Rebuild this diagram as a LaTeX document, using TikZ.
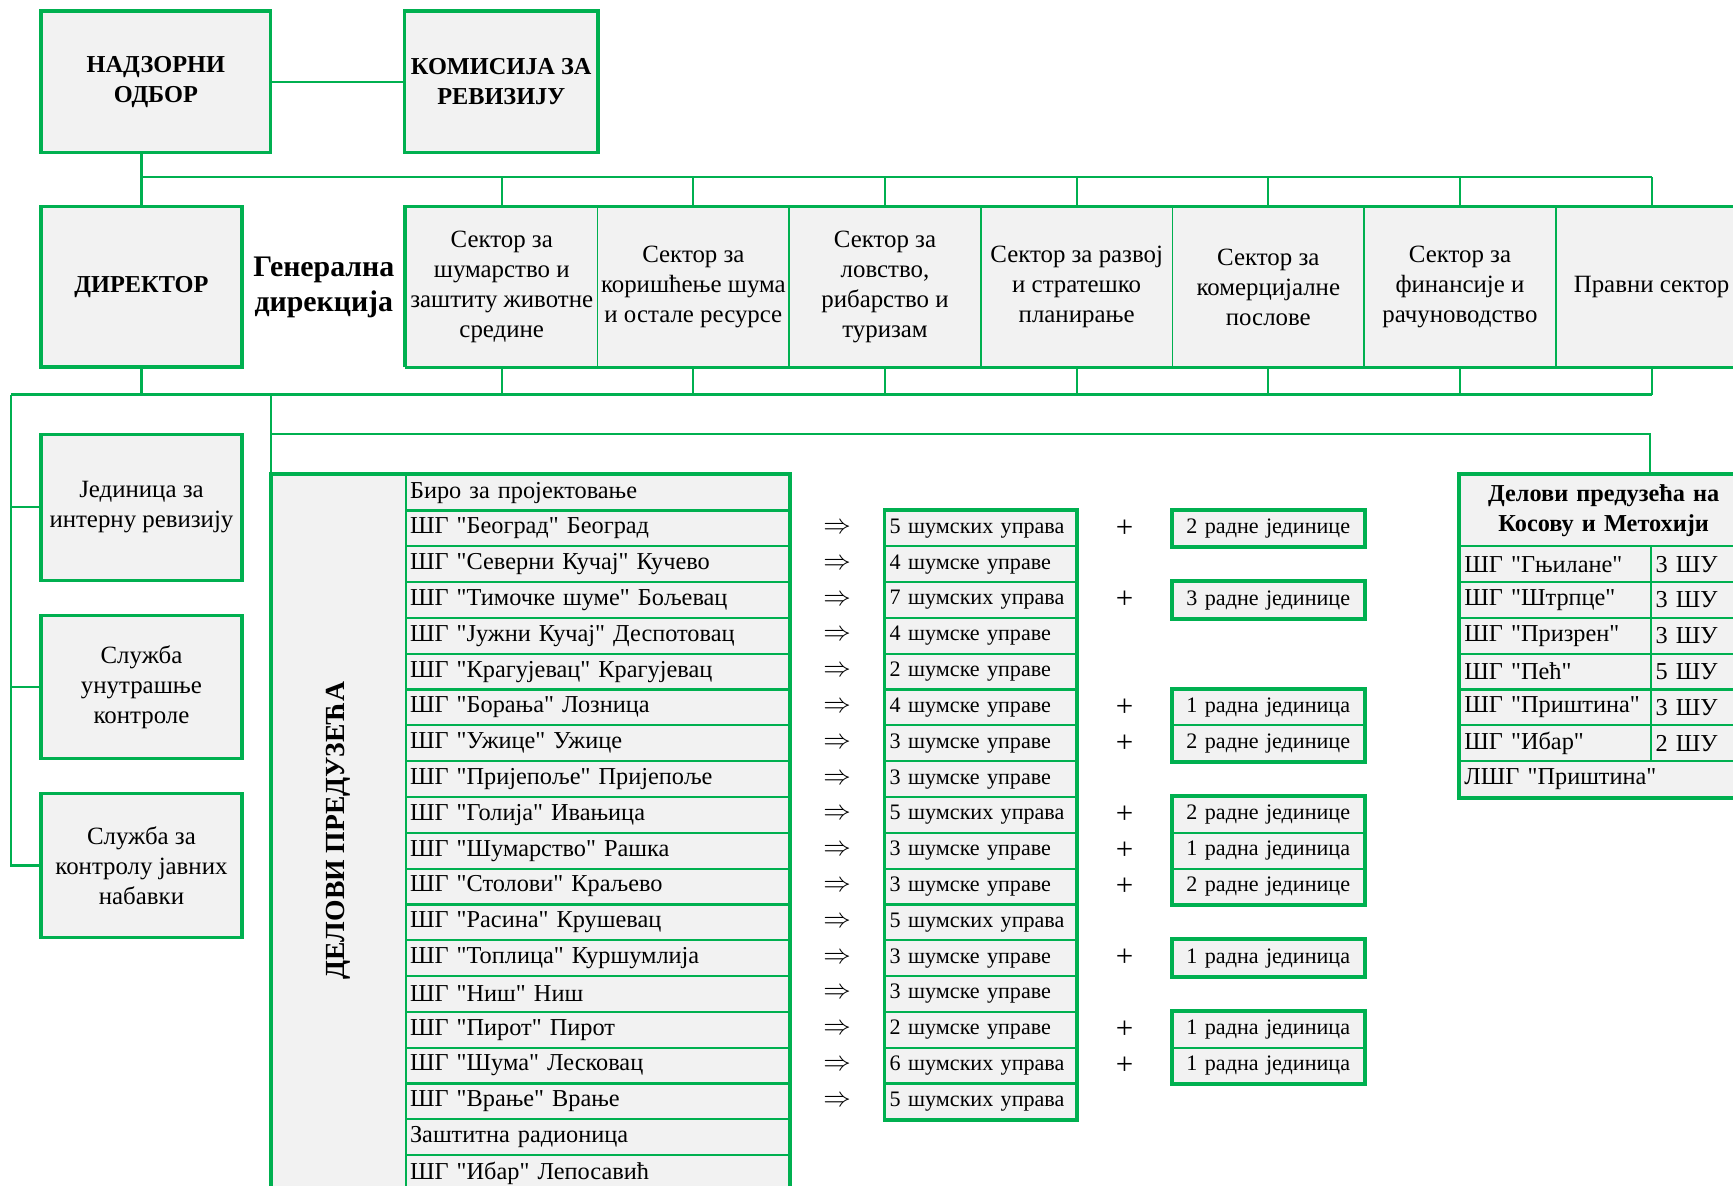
\documentclass[tikz,border=0pt]{standalone}
\usepackage{fontspec}
\setmainfont{Liberation Serif}[Ligatures=TeXOff]
\usetikzlibrary{calc,positioning}
\definecolor{sgroen}{RGB}{0,176,80}
\definecolor{vakgrijs}{RGB}{242,242,242}
\newcommand{\tekstfont}{\fontsize{22.5}{27}\selectfont}
\newcommand{\rijfont}{\fontsize{22}{27}\selectfont}
\newcommand{\kleinfont}{\fontsize{20}{27}\selectfont}
\tikzset{
	vak/.style={draw=sgroen, line width=3pt, fill=vakgrijs, align=center, inner sep=1pt, font=\tekstfont},
	sectorvak/.style={draw=sgroen, line width=1.5pt, fill=vakgrijs, align=center, anchor=north west,
		minimum width=173.4pt, minimum height=144pt, inner sep=1pt, font=\tekstfont},
	rij/.style={draw=sgroen, line width=2pt, fill=vakgrijs, anchor=north west, align=left,
		minimum height=32.4pt, inner sep=4pt, font=\rijfont},
	rand/.style={sgroen, line width=3pt},
	lijn/.style={sgroen, line width=2pt},
}

\begin{document}
\begin{tikzpicture}[x=1pt, y=-1pt]
		\useasboundingbox (0,0) rectangle (1568,1073);
		\clip (0,0) rectangle (1568,1073);
		\def\rh{32.4}
		\def\rtop{428.5}

		% Bovenste rij
		\node[vak, minimum width=208pt, minimum height=128pt, font=\fontsize{22}{27}\selectfont\bfseries] (nadzor) at (141,74) {НАДЗОРНИ\\ОДБОР};
		\node[vak, minimum width=175pt, minimum height=128pt, font=\fontsize{22}{27}\selectfont\bfseries] (komisija) at (453.5,74) {КОМИСИЈА ЗА\\РЕВИЗИЈУ};
		\node[vak, minimum width=182pt, minimum height=145pt, font=\fontsize{22}{27}\selectfont\bfseries] (direktor) at (128,259.5) {ДИРЕКТОР};
		\node[font=\fontsize{27}{32}\selectfont\bfseries, align=center] (generaal) at (293,260) {Генерална\\дирекција};

		% Sectoren
		\foreach \t [count=\i] in {{Сектор за\\шумарство и\\заштиту животне\\средине}, {Сектор за\\коришћење шума\\и остале ресурсе},
			{Сектор за\\ловство,\\рибарство и\\туризам}, {Сектор за развој\\и стратешко\\планирање}, {Сектор за\\комерцијалне\\послове},
			{Сектор за\\финансије и\\рачуноводство}, {Правни сектор}}
			\node[sectorvak] (sec\i) at ({366.5+(\i-1)*173.4},187) {\t};
		\draw[rand] (sec1.south west) -- (sec1.north west) -- (sec7.north east);
		\draw[rand] (sec1.south west) -- (sec7.south east);

		% Linker vakken
		\node[vak, minimum width=182pt, minimum height=132pt] (interna) at (128,459) {Јединица за\\интерну ревизију};
		\node[vak, minimum width=182pt, minimum height=129pt] (kontrola) at (128,621.5) {Служба\\унутрашње\\контроле};
		\node[vak, minimum width=182pt, minimum height=130pt] (nabavke) at (128,783) {Служба за\\контролу јавних\\набавки};

		% Delovi preduzeca
		\node[rij, minimum width=121pt, minimum height=650pt] (delkol) at (245,\rtop) {};
		\node[rotate=90, font=\fontsize{25}{28}\selectfont\bfseries] (deltekst) at ($(delkol.center)+(0,-3)$) {ДЕЛОВИ ПРЕДУЗЕЋА};
		\foreach \t [count=\i] in {Биро за пројектовање, ШГ "Београд" Београд, ШГ "Северни Кучај" Кучево, ШГ "Тимочке шуме" Бољевац,
			ШГ "Јужни Кучај" Деспотовац, ШГ "Крагујевац" Крагујевац, ШГ "Борања" Лозница, ШГ "Ужице" Ужице,
			ШГ "Пријепоље" Пријепоље, ШГ "Голија" Ивањица, ШГ "Шумарство" Рашка, ШГ "Столови" Краљево,
			ШГ "Расина" Крушевац, ШГ "Топлица" Куршумлија, ШГ "Ниш" Ниш, ШГ "Пирот" Пирот,
			ШГ "Шума" Лесковац, ШГ "Врање" Врање, Заштитна радионица, ШГ "Ибар" Лепосавић}
			\node[rij, text width=339pt] (d\i) at (366,{\rtop+(\i-1)*\rh}) {\mbox{\t}};
		\draw[rand] (delkol.south west) -- (delkol.north west) -- (d1.north east) -- (d20.south east);

		% Sumske uprave
		\foreach \t [count=\i from 2] in {5 шумских управа, 4 шумске управе, 7 шумских управа, 4 шумске управе,
			2 шумске управе, 4 шумске управе, 3 шумске управе, 3 шумске управе, 5 шумских управа,
			3 шумске управе, 3 шумске управе, 5 шумских управа, 3 шумске управе, 3 шумске управе,
			2 шумске управе, 6 шумских управа, 5 шумских управа}
		{
			\node[rij, text width=165pt, font=\kleinfont] (s\i) at (800,{\rtop+(\i-1)*\rh}) {\mbox{\t}};
			\node[font=\fontsize{30}{30}\selectfont] (pijl\i) at ($(d\i.east)!0.5!(s\i.west)$) {$\Rightarrow$};
		}
		\draw[rand] (s2.north west) rectangle (s18.south east);

		% Radne jedinice
		\foreach \i/\t in {2/2 радне јединице, 4/3 радне јединице, 7/1 радна јединица, 8/2 радне јединице,
			10/2 радне јединице, 11/1 радна јединица, 12/2 радне јединице, 14/1 радна јединица,
			16/1 радна јединица, 17/1 радна јединица}
		{
			\node[rij, text width=165pt, align=center, font=\kleinfont] (r\i) at (1060,{\rtop+(\i-1)*\rh}) {\t};
			\node[font=\fontsize{28}{28}\selectfont] (plus\i) at ($(s\i.east)!0.5!(r\i.west)$) {+};
		}
		\draw[rand] (r2.north west) rectangle (r2.south east);
		\draw[rand] (r4.north west) rectangle (r4.south east);
		\draw[rand] (r7.north west) rectangle (r8.south east);
		\draw[rand] (r10.north west) rectangle (r12.south east);
		\draw[rand] (r14.north west) rectangle (r14.south east);
		\draw[rand] (r16.north west) rectangle (r17.south east);

		% Kosovo i Metohija
		\node[rij, text width=252pt, minimum height=64.8pt, align=center, font=\fontsize{22}{27}\selectfont\bfseries] (kosovo) at (1320,\rtop) {Делови предузећа на\\Косову и Метохији};
		\foreach \n/\b [count=\i] in {Гњилане/3, Штрпце/3, Призрен/3, Пећ/5, Приштина/3, Ибар/2}
		{
			\node[rij, text width=165pt] (k\i) at (1320,{\rtop+(\i+1)*\rh}) {\mbox{ШГ "\n"}};
			\node[rij, text width=79pt] (kb\i) at (1493,{\rtop+(\i+1)*\rh}) {\b\ ШУ};
		}
		\node[rij, text width=252pt] (k7) at (1320,{\rtop+8*\rh}) {ЛШГ "Приштина"};
		\draw[rand] (kosovo.north east) -- (kosovo.north west) -- (k7.south west) -- (k7.south east);

		% Verbindingen
		\coordinate (bus1) at (0,160);
		\coordinate (bus2) at (0,357);
		\coordinate (bus3) at (0,393);
		\coordinate (links) at (10,0);
		\draw[lijn] (nadzor.east) -- (komisija.west);
		\draw[lijn] (direktor.north) -- (direktor.north |- nadzor.south);
		\draw[lijn] (direktor.north |- bus1) -- (sec7.north |- bus1);
		\draw[lijn] (direktor.south) -- (direktor.south |- bus2);
		\foreach \i in {1,...,7}
		{
			\draw[lijn] (sec\i.north) -- (sec\i.north |- bus1);
			\draw[lijn] (sec\i.south) -- (sec\i.south |- bus2);
		}
		\draw[lijn] (links |- bus2) -- (sec7.south |- bus2);
		\draw[lijn] (links |- bus2) -- (links |- nabavke.west) -- (nabavke.west);
		\draw[lijn] (links |- interna.west) -- (interna.west);
		\draw[lijn] (links |- kontrola.west) -- (kontrola.west);
		\draw[lijn] (delkol.north west |- bus2) -- (delkol.north west);
		\draw[lijn] (delkol.north west |- bus3) -- (kb1.north west |- bus3) -- (kb1.north west |- kosovo.north);
	\end{tikzpicture}
\end{document}
